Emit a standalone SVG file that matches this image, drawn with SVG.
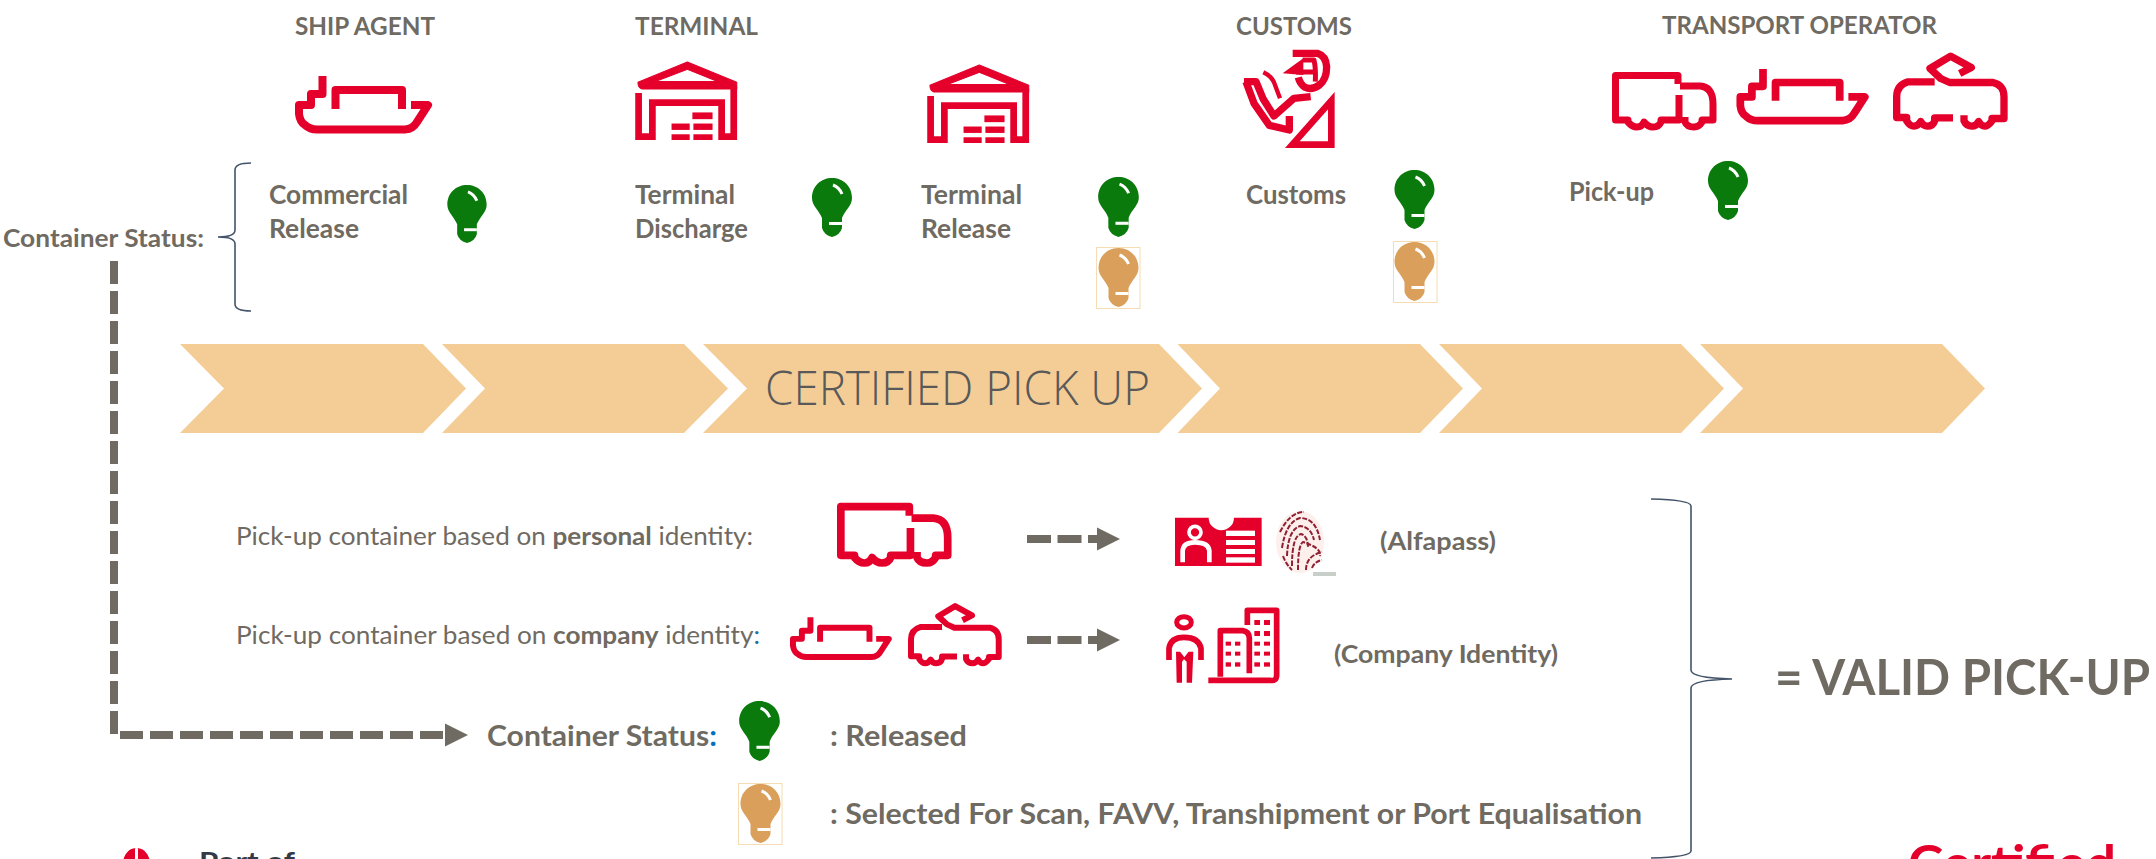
<svg xmlns="http://www.w3.org/2000/svg" width="2156" height="859" viewBox="0 0 2156 859">
<style>
text{font-family:Lato,"Open Sans","Liberation Sans",sans-serif;fill:#6f6a62}
.b{font-weight:700;font-size:26px}
.h{font-weight:700;font-size:25px}
.r{font-weight:400;font-size:25px}
.ic{fill:none;stroke:#e4002b;stroke-linejoin:round}
.fr{fill:#e4002b}
.g{fill:#0a7a0c}
.o{fill:#d99f5b}
.box{fill:none;stroke:#f6dcb2;stroke-width:1}
.chev{fill:#f4cd96}
.brace{fill:none;stroke:#44546a;stroke-width:1.6}
.dash{fill:none;stroke:#6f6a62;stroke-width:8}
.w{fill:#fff}
.ws{fill:none;stroke:#fff}
</style>
<defs>
<marker id="ah" markerUnits="userSpaceOnUse" markerWidth="24" markerHeight="24" refX="0" refY="12" orient="auto"><path d="M0 0.5L23 12L0 23.5Z" fill="#6f6a62"/></marker>
<symbol id="bulb" viewBox="0 0 40 59" overflow="visible"><path d="M20 0C31 0 40 8 40 20C40 28 33 32 30 40V50Q28 57 20 59Q12 57 10 50V40C7 32 0 28 0 20C0 8 9 0 20 0Z"/><path class="ws" stroke-width="3" d="M21 7Q27 9 30 16"/><rect class="w" x="17" y="44" width="13" height="3"/></symbol>
<symbol id="ship" viewBox="0 0 140 57" overflow="visible"><g class="ic" stroke-width="8"><path d="M27.500 0V18H16V29H4V38Q5 46 10 49Q15 53.500 22 53.500H110Q118 53 122 46L133 29H116"/><path d="M40.500 33V14H107V33"/></g></symbol>
<symbol id="truck" viewBox="0 0 104 58" overflow="visible"><g class="ic" stroke-width="7"><path d="M66 12V3.500H3.500V48H16V50Q20 55 25 55Q30 55 32 50Q36 55 41 55Q47 55 49 50V48H67V23"/><path d="M68 14H88Q101 15 101 32V48H90V50Q87 55 82 55Q75 55 73 50V45"/></g></symbol>
<symbol id="tram" viewBox="25 12 345 224" overflow="visible"><g class="ic" stroke-width="22"><path d="M225 70L260 52L198 18L136 55L168 85L195 97H325Q358 105 358 140V205H322V212Q310 228 300 228Q290 228 282 214Q275 228 262 228Q245 228 238 212V195"/><path d="M150 95H70Q36 105 36 140V202H66V212Q76 228 88 228Q100 228 108 214Q116 228 128 228Q145 228 150 212V203H205"/></g></symbol>
<symbol id="house" viewBox="30 20 302 232" overflow="visible"><path class="fr" stroke="#e4002b" stroke-width="3" stroke-linejoin="round" fill-rule="evenodd" d="M38 80L185 20L332 80V100H50Q38 97 38 80ZM90 78H275L185 42Z"/><g class="ic" stroke-width="20" style="stroke-linejoin:miter"><path d="M40 112V242H81V141H287V242H323V90"/></g><g class="fr"><rect x="200" y="170" width="60" height="20"/><rect x="138" y="203" width="54" height="19"/><rect x="203" y="203" width="57" height="19"/><rect x="138" y="235" width="54" height="17"/><rect x="203" y="235" width="57" height="17"/></g></symbol>
</defs>

<g id="connectors">
<path class="dash" stroke-dasharray="23 7" d="M114 261V735H445" marker-end="url(#ah)"/>
<path class="dash" stroke-dasharray="24 6.500" d="M1027 539H1097" marker-end="url(#ah)"/>
<path class="dash" stroke-dasharray="24 6.500" d="M1027 640H1097" marker-end="url(#ah)"/>
<path class="brace" d="M251 163Q235 163 235 170V230Q235 237 218 237Q235 237 235 244V304Q235 311 251 311"/>
<path class="brace" d="M1651 499Q1691 500 1691 506V670Q1691 678 1732 679Q1691 680 1691 688V851Q1691 857 1651 858"/>
</g>

<g id="chevrons">
<path class="chev" d="M180 344H423L466 388.500L423 433H180L224 388.500Z"/>
<path class="chev" d="M442 344H684L728 388.500L684 433H442L485 388.500Z"/>
<path class="chev" d="M703 344H1159L1202 388.500L1159 433H703L747 388.500Z"/>
<path class="chev" d="M1177.500 344H1420L1463 388.500L1420 433H1177.500L1220 388.500Z"/>
<path class="chev" d="M1439 344H1681L1724 388.500L1681 433H1439L1482 388.500Z"/>
<path class="chev" d="M1700 344H1942L1985 388.500L1942 433H1700L1743 388.500Z"/>
<text x="765" y="405" font-size="47" textLength="385" lengthAdjust="spacingAndGlyphs" style="font-family:'Open Sans',Lato,sans-serif;font-weight:300;fill:#595959">CERTIFIED PICK UP</text>
</g>

<text x="3" y="247" class="h" textLength="201" lengthAdjust="spacingAndGlyphs" id="status-label">Container Status:</text>

<g id="ship-agent">
<text x="295" y="35" class="h" textLength="140" lengthAdjust="spacingAndGlyphs">SHIP AGENT</text>
<use href="#ship" x="295" y="76" width="140" height="57"/>
<text x="269" y="204" class="b" textLength="139" lengthAdjust="spacingAndGlyphs">Commercial</text>
<text x="269" y="238" class="b" textLength="90" lengthAdjust="spacingAndGlyphs">Release</text>
<use href="#bulb" class="g" x="447" y="185" width="40" height="58"/>
</g>

<g id="terminal-discharge">
<text x="635" y="35" class="h" textLength="123" lengthAdjust="spacingAndGlyphs">TERMINAL</text>
<use href="#house" x="635" y="62" width="102" height="78"/>
<text x="635" y="204" class="b" textLength="100" lengthAdjust="spacingAndGlyphs">Terminal</text>
<text x="635" y="238" class="b" textLength="113" lengthAdjust="spacingAndGlyphs">Discharge</text>
<use href="#bulb" class="g" x="812" y="178" width="40" height="59"/>
</g>

<g id="terminal-release">
<use href="#house" x="927" y="65" width="102" height="78"/>
<text x="921" y="204" class="b" textLength="101" lengthAdjust="spacingAndGlyphs">Terminal</text>
<text x="921" y="238" class="b" textLength="90" lengthAdjust="spacingAndGlyphs">Release</text>
<use href="#bulb" class="g" x="1098" y="177" width="41" height="60"/>
<rect class="box" x="1096.500" y="247.500" width="43.500" height="61"/>
<use href="#bulb" class="o" x="1098" y="248" width="41" height="59"/>
</g>

<g id="customs">
<text x="1236" y="35" class="h" textLength="116" lengthAdjust="spacingAndGlyphs">CUSTOMS</text>
<g transform="translate(1230 40) scale(.3333)">
<g class="ic" stroke-width="22">
<path d="M188 40H262Q288 48 290 80Q290 118 268 135Q245 152 225 142Q210 132 205 112"/>
<path stroke-width="15" d="M198 96H258M218 60H252Q258 85 256 125"/>
<path stroke-width="13" d="M100 97Q128 110 135 135L150 175"/>
<path d="M42 125H78L100 178L132 228L192 175L242 170"/>
<path d="M48 125L72 190L118 256L178 270V228"/>
<path d="M187 314L304 182V314Z" stroke-width="20" style="stroke-linejoin:miter"/>
</g>
<path class="fr" d="M158 100L220 55V105Z"/>
</g>
<text x="1246" y="204" class="b" textLength="100" lengthAdjust="spacingAndGlyphs">Customs</text>
<use href="#bulb" class="g" x="1394" y="170" width="41" height="59"/>
<rect class="box" x="1393.500" y="241.500" width="43.500" height="61"/>
<use href="#bulb" class="o" x="1394" y="242" width="41" height="59"/>
</g>

<g id="transport-operator">
<text x="1662" y="34" class="h" textLength="275" lengthAdjust="spacingAndGlyphs">TRANSPORT OPERATOR</text>
<use href="#truck" x="1612" y="72" width="104" height="58"/>
<use href="#ship" x="1736" y="69" width="136" height="55"/>
<use href="#tram" x="1893" y="54" width="115" height="75"/>
<text x="1569" y="201" class="b" textLength="85" lengthAdjust="spacingAndGlyphs">Pick-up</text>
<use href="#bulb" class="g" x="1708" y="161" width="40" height="59"/>
</g>

<g id="personal-identity">
<text x="236" y="545" class="r" textLength="517" lengthAdjust="spacingAndGlyphs">Pick-up container based on <tspan font-weight="700">personal</tspan> identity:</text>
<use href="#truck" x="837" y="502" width="114" height="65"/>
<g transform="translate(1160 500) scale(.3333)">
<path class="fr" d="M45 53H146A38 38 0 0 0 222 53H305V198H45Z"/>
<circle class="ws" cx="105" cy="97" r="18" stroke-width="11"/>
<path class="ws" stroke-width="14" d="M68 187V152Q70 127 105 127Q145 127 148 152V187"/>
<g class="w"><rect x="198" y="92" width="87" height="16"/><rect x="198" y="120" width="87" height="15"/><rect x="198" y="147" width="87" height="15"/><rect x="198" y="172" width="87" height="16"/></g>
</g>
<g id="fingerprint">
<ellipse cx="1300" cy="542" rx="24" ry="31" fill="#fdf0ec"/>
<g fill="none" stroke="#8f2034" stroke-width="2" stroke-dasharray="5 1.500">
<path d="M1282 548Q1286 522 1300 518Q1316 518 1320 540"/>
<path d="M1287 556Q1288 530 1300 526Q1311 527 1314 540"/>
<path d="M1292 566Q1292 536 1301 534Q1308 536 1308 548"/>
<path d="M1298 570Q1298 545 1303 542Q1322 548 1320 556"/>
<path d="M1306 570Q1306 556 1322 552"/>
<path d="M1280 532Q1290 512 1304 512"/>
<path d="M1312 568Q1314 562 1322 560"/>
<path d="M1283 556Q1286 564 1292 570"/>
</g>
<rect x="1313" y="572" width="23" height="4" fill="#c8cec8"/>
</g>
<text x="1380" y="550" class="h" textLength="116" lengthAdjust="spacingAndGlyphs">(Alfapass)</text>
</g>

<g id="company-identity">
<text x="236" y="644" class="r" textLength="524" lengthAdjust="spacingAndGlyphs">Pick-up container based on <tspan font-weight="700">company</tspan> identity<tspan style="fill:#1f6f9f">:</tspan></text>
<use href="#ship" x="790" y="617" width="104" height="43"/>
<use href="#tram" x="908" y="604" width="94" height="62"/>
<g transform="translate(1160 500) scale(.3333)">
<ellipse cx="72" cy="367" rx="22" ry="17" fill="none" stroke="#e4002b" stroke-width="15"/>
<path class="ic" stroke-width="17" d="M27 480V445Q32 412 72 412Q116 412 123 445V480"/>
<path class="fr" d="M48 455H100L96 548H80V485L72 478L66 485V548H50Z"/>
<path class="w" d="M58 452H88L73 472Z"/>
<g class="ic" stroke-width="17"><path d="M181 530V392H248Q268 395 268 415V520"/><path d="M262 375V331H350V525Q350 545 330 541H145"/></g>
<g class="fr"><rect x="197" y="425" width="16" height="12"/><rect x="225" y="425" width="16" height="12"/><rect x="197" y="455" width="16" height="12"/><rect x="225" y="455" width="16" height="12"/><rect x="197" y="487" width="16" height="13"/><rect x="225" y="487" width="16" height="13"/><rect x="283" y="360" width="17" height="15"/><rect x="312" y="360" width="18" height="15"/><rect x="283" y="393" width="17" height="15"/><rect x="312" y="393" width="18" height="15"/><rect x="283" y="425" width="17" height="12"/><rect x="312" y="425" width="18" height="12"/><rect x="283" y="455" width="17" height="12"/><rect x="312" y="455" width="18" height="12"/><rect x="283" y="487" width="17" height="13"/><rect x="312" y="487" width="18" height="13"/></g>
</g>
<text x="1334" y="663" class="h" textLength="224" lengthAdjust="spacingAndGlyphs">(Company Identity)</text>
</g>

<g id="legend">
<text x="487" y="746" class="b" style="font-size:28px" textLength="230" lengthAdjust="spacingAndGlyphs">Container Status<tspan style="fill:#0070c0">:</tspan></text>
<use href="#bulb" class="g" x="739" y="701" width="41" height="60"/>
<text x="830" y="746" class="b" style="font-size:28px" textLength="137" lengthAdjust="spacingAndGlyphs">: Released</text>
<rect class="box" x="738.500" y="783.500" width="43.500" height="61"/>
<use href="#bulb" class="o" x="740" y="784" width="41" height="59"/>
<text x="830" y="824" class="b" style="font-size:28px" textLength="812" lengthAdjust="spacingAndGlyphs">: Selected For Scan, FAVV, Transhipment or Port Equalisation</text>
</g>

<g id="result">
<text x="1775" y="695" style="font-size:50px;font-weight:700" textLength="375" lengthAdjust="spacingAndGlyphs">= VALID PICK-UP</text>
</g>

<g id="port-logo">
<path class="fr" fill-rule="evenodd" d="M136.500 848C145 848 151 856 151 870H122C122 856 128 848 136.500 848ZM135 848H138V870H135Z"/>
<text x="199" y="871" style="font-size:27px;font-weight:700;fill:#333a45" textLength="96" lengthAdjust="spacingAndGlyphs">Port of</text>
</g>

<g id="certified-logo">
<text x="1908" y="881" style="font-size:50px;font-weight:700;fill:#e4002b" textLength="208" lengthAdjust="spacingAndGlyphs">Certified</text>
</g>
</svg>
